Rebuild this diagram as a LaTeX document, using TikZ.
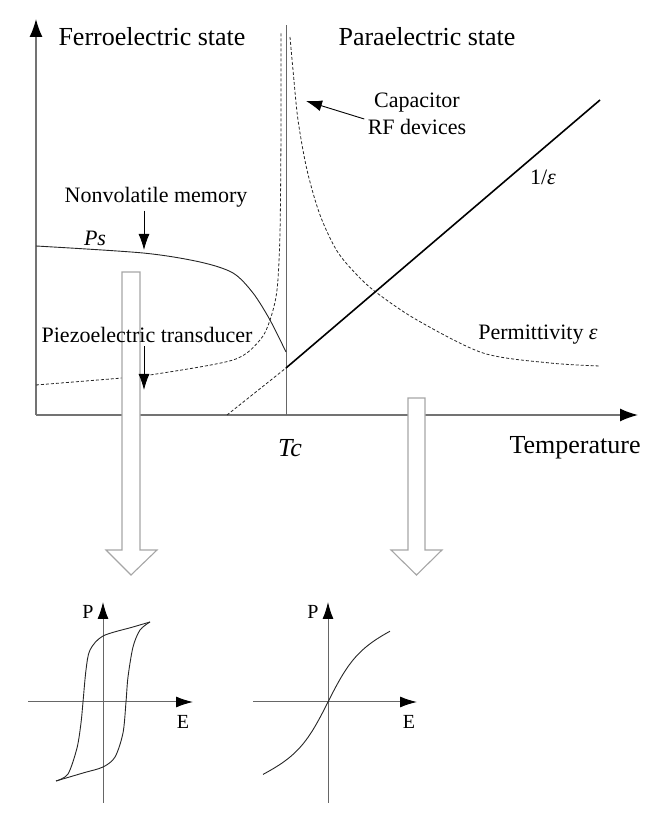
\documentclass[tikz,border=0pt]{standalone}
\usepackage{fontspec}
\setmainfont{Liberation Serif}
\usetikzlibrary{arrows.meta}

\begin{document}
\begin{tikzpicture}[x=1pt,y=1pt,
  axis/.style={draw=black!55,line width=1.4pt,-{Latex[length=18pt,width=13pt,color=black]}},
  small axis/.style={draw=black!60,line width=1pt,-{Latex[length=17pt,width=11pt,color=black]}},
  curve/.style={draw=black!85,line width=0.9pt},
  dash curve/.style={draw=black!85,line width=0.8pt,dash pattern=on 3pt off 2pt},
  pointer/.style={draw=black,line width=0.9pt,-{Latex[length=16pt,width=11pt]}},
  title/.style={font=\fontsize{26}{30}\selectfont},
  label/.style={font=\fontsize{22}{27}\selectfont},
  tick/.style={font=\fontsize{20}{24}\selectfont},
  hollow/.style={draw=black!35,fill=white,line width=1.1pt}]
\useasboundingbox (0,0) rectangle (664,828);

% main axes
\coordinate (O) at (36,413);
\coordinate (Ytip) at (36,809);
\coordinate (Xtip) at (638,413);
\coordinate (Tc) at (286,413);
\coordinate (Tctop) at (286,803);
\draw[axis] (O) -- (Ytip);
\draw[axis] (O) -- (Xtip);
\draw[black!60,line width=0.6pt] (Tc) -- (Tctop);

% spontaneous polarisation
\draw[curve] plot[smooth] coordinates {(36,582) (143,575) (200,566) (233,555) (253,535) (270,508) (286,476)};
% permittivity
\draw[dash curve] plot[smooth] coordinates {(36,443) (122,450) (150,453) (233,468) (260,488) (270,508) (277,538) (280,595) (281,700) (281,796)};
\draw[dash curve] plot[smooth] coordinates {(290,791) (293,758) (298,708) (307,658) (320,613) (337,577) (357,553) (377,535) (417,508) (483,475) (550,465) (600,462)};
% inverse permittivity
\coordinate (Tzero) at (227,413);
\coordinate (Cw) at (286,460);
\coordinate (Cwend) at (600,728);
\draw[dash curve] (Tzero) -- (Cw);
\draw[black,line width=1.6pt] (Cw) -- (Cwend);

% big hollow arrows
\draw[hollow] (122,556) -- (122,278) -- (106,278) -- (131,253) -- (157,278) -- (140,278) -- (140,556) -- cycle;
\draw[hollow] (408,430) -- (408,278) -- (391,278) -- (416.5,253) -- (442,278) -- (425,278) -- (425,430) -- cycle;

% labels
\node[title] (ferro) at (152,791) {Ferroelectric state};
\node[title] (para) at (427,791) {Paraelectric state};
\node[title] (temp) at (575,380) {Temperature};
\node[title] (tclab) at (290,380) {\textit{Tc}};
\node[label,align=center] (cap) at (417,714) {Capacitor\\RF devices};
\node[label] (inv) at (543,651) {1/\textit{ε}};
\node[label] (perm) at (538,493) {Permittivity \textit{ε}};
\node[label] (nvm) at (156,631) {Nonvolatile memory};
\node[label] (ps) at (95,590) {\textit{Ps}};
\node[label] (piezo) at (147,493) {Piezoelectric transducer};

\coordinate (captip) at (306,727);
\coordinate (nvmtip) at (144,578);
\coordinate (piezotip) at (144,438);
\draw[pointer] ([yshift=-5pt]cap.west) -- (captip);
\draw[pointer] ([xshift=-12pt]nvm.south) -- (nvmtip);
\draw[pointer] ([xshift=-3pt]piezo.south) -- (piezotip);

% hysteresis loop
\coordinate (A) at (103,126);
\draw[small axis] (28,126) -- (193,126);
\draw[small axis] (103,25) -- (103,226);
\node[tick] (pa) at (88,216) {P};
\node[tick] (ea) at (183,106) {E};
\draw[curve] plot[smooth] coordinates {(56,47) (68,54) (77,80) (81,105) (83,126) (86,158) (90,178) (103,192) (133,201) (150,206)};
\draw[curve] plot[smooth] coordinates {(150,206) (140,198) (133,181) (128,151) (126,126) (123,95) (115,71) (103,61) (83,55) (56,47)};

% paraelectric response
\coordinate (B) at (328,126);
\draw[small axis] (253,126) -- (417,126);
\draw[small axis] (328,25) -- (328,226);
\node[tick] (pb) at (313,216) {P};
\node[tick] (eb) at (409,106) {E};
\draw[curve,shift={(B)}] plot[domain=-65:62,samples=60] (\x,{42*tanh(\x/28)+0.48*\x});
\end{tikzpicture}
\end{document}
